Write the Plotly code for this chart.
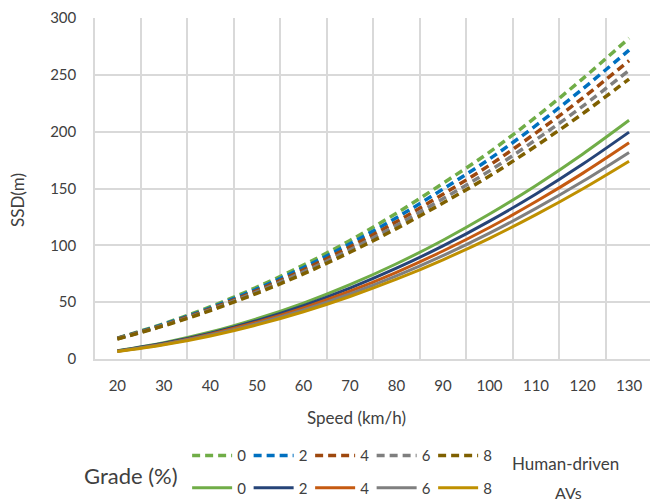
import plotly.graph_objects as go

speed = [20, 30, 40, 50, 60, 70, 80, 90, 100, 110, 120, 130]
grades = ["0", "2", "4", "6", "8"]

human = {
    "0": [18.4, 31.1, 46.0, 63.2, 82.6, 104.3, 128.3, 154.6, 182.0, 213.0, 246.5, 282.3],
    "2": [18.2, 30.5, 45.0, 61.6, 80.4, 101.3, 124.3, 149.5, 176.0, 205.5, 237.5, 271.8],
    "4": [18.0, 30.0, 44.1, 60.2, 78.4, 98.6, 120.8, 145.0, 170.5, 199.0, 229.5, 262.5],
    "6": [17.8, 29.6, 43.3, 59.0, 76.6, 96.1, 117.6, 141.0, 165.5, 193.0, 222.3, 254.0],
    "8": [17.6, 29.2, 42.6, 57.8, 74.9, 93.9, 114.7, 137.3, 161.0, 187.5, 215.8, 246.3],
}
avs = {
    "0": [7.3, 14.4, 23.7, 35.4, 49.2, 65.4, 83.8, 104.5, 127.5, 152.7, 180.2, 210.0],
    "2": [7.1, 13.8, 22.7, 33.8, 47.0, 62.4, 79.9, 99.5, 121.3, 145.2, 171.3, 199.6],
    "4": [6.9, 13.3, 21.9, 32.4, 45.0, 59.6, 76.3, 95.0, 115.7, 138.5, 163.3, 190.2],
    "6": [6.7, 12.9, 21.1, 31.2, 43.2, 57.2, 73.1, 90.9, 110.7, 132.5, 156.1, 181.7],
    "8": [6.5, 12.5, 20.3, 30.0, 41.6, 55.0, 70.2, 87.3, 106.2, 127.0, 149.6, 174.0],
}
human_colors = ["#70AD47", "#0070C0", "#9E480E", "#7F7F7F", "#7F6000"]
av_colors = ["#70AD47", "#264478", "#C55A11", "#7F7F7F", "#BF9000"]

x_ticks = [20, 30, 40, 50, 60, 70, 80, 90, 100, 110, 120, 130]
x_grid = [25, 35, 45, 55, 65, 75, 85, 95, 105, 115, 125]
y_ticks = [0, 50, 100, 150, 200, 250, 300]

FONT = "Lato"
TXT = "#404040"

fig = go.Figure()
for g, c in zip(grades, human_colors):
    fig.add_trace(go.Scatter(x=speed, y=human[g], mode="lines", name=g,
                             line=dict(color=c, width=3.5, dash="8px,5px", shape="spline"),
                             legend="legend"))
for g, c in zip(grades, av_colors):
    fig.add_trace(go.Scatter(x=speed, y=avs[g], mode="lines", name=g,
                             line=dict(color=c, width=3, shape="spline"),
                             legend="legend2"))

xr = [15.2, 134.5]
legend_common = dict(orientation="h", xanchor="left", yanchor="middle",
                     font=dict(family=FONT, size=15, color=TXT),
                     bgcolor="rgba(0,0,0,0)", entrywidth=6.5, entrywidthmode="pixels",
                     tracegroupgap=0, itemwidth=40)

def ann(text, x, y, size, angle=0):
    return dict(text=text, xref="paper", yref="paper", x=x, y=y, xanchor="center",
                yanchor="middle", showarrow=False, textangle=angle,
                font=dict(family=FONT, size=size, color=TXT))

fig.update_layout(
    width=650, height=502,
    margin=dict(l=95, r=0, t=18, b=143, autoexpand=False),
    plot_bgcolor="white", paper_bgcolor="white",
    font=dict(family=FONT, size=15, color=TXT),
    xaxis=dict(range=xr, tickvals=x_ticks, ticktext=[str(v) for v in x_ticks],
               showgrid=False, zeroline=False, showline=True, linecolor="#D9D9D9",
               linewidth=1.5, ticks="", ticklabelstandoff=12,
               tickfont=dict(family=FONT, size=15, color=TXT)),
    xaxis2=dict(range=xr, overlaying="x", side="bottom", tickvals=x_grid,
                showticklabels=False, showgrid=True, gridcolor="#D9D9D9", gridwidth=1.5,
                zeroline=False, showline=False, ticks=""),
    yaxis=dict(range=[0, 300], tickvals=y_ticks, showgrid=True, gridcolor="#D9D9D9",
               gridwidth=1.5, zeroline=False, showline=True, linecolor="#D9D9D9",
               linewidth=1.5, ticks="", ticklabelstandoff=14,
               tickfont=dict(family=FONT, size=15, color=TXT)),
    legend=dict(x=0.166, y=-0.284, **legend_common),
    legend2=dict(x=0.166, y=-0.378, **legend_common),
    annotations=[
        ann("Speed (km/h)", 0.472, -0.173, 17),
        ann("SSD(m)", -0.14, 0.467, 17, -90),
        ann("Grade (%)", 0.065, -0.343, 22),
        ann("Human-driven", 0.847, -0.305, 17),
        ann("AVs", 0.854, -0.392, 16),
    ],
)
fig.add_trace(go.Scatter(x=[], y=[], xaxis="x2", showlegend=False, hoverinfo="skip"))

fig.write_html("out.html")
